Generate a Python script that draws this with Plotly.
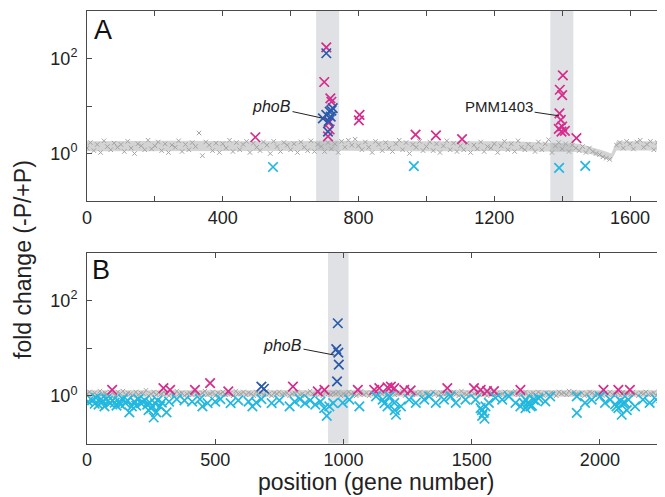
"""
Fold change (-P/+P) along the genome, two strains (A, B).
"""
import math
import plotly.graph_objects as go

# ---- panel A : background genes (every 10th gene) ----
grey_a = [
    1.3, 1.7, 1.15, 1.55, 1.05, 1.85, 1.4, 1.2, 1.65, 1.35,
    1.55, 1.1, 1.8, 1.3, 1.0, 1.6, 1.45, 1.2, 1.9, 1.25,
    1.45, 1.75, 1.15, 1.6, 1.05, 1.5, 1.35, 1.85, 1.1, 1.55,
    1.2, 1.7, 1.4, 2.7, 0.9, 1.75, 1.5, 1.15, 1.65, 1.05,
    1.6, 1.3, 1.9, 1.1, 1.7, 1.2, 1.55, 1.8, 1.05, 1.65,
    1.35, 1.15, 1.75, 1.5, 1.0, 1.8, 1.4, 1.1, 1.7, 1.5,
    1.2, 1.6, 1.05, 1.75, 1.35, 1.15, 1.85, 1.1, 1.55, 1.4,
    1.1, 1.7, 1.25, 1.6, 1.05, 1.8, 1.35, 1.9, 1.5, 2.0,
    1.45, 1.2, 1.75, 1.35, 1.05, 1.8, 1.55, 1.15, 1.7, 1.3,
    1.1, 1.6, 1.9, 1.2, 1.7, 1.0, 1.55, 1.35, 1.8, 1.15,
    1.4, 1.75, 1.15, 1.6, 1.05, 1.45, 1.85, 1.2, 1.65, 1.1,
    1.45, 1.2, 1.65, 1.05, 1.5, 1.25, 1.75, 1.1, 1.4, 1.3,
    1.6, 1.05, 1.45, 1.8, 1.2, 1.6, 1.1, 1.85, 1.35, 1.2,
    1.55, 1.35, 1.1, 1.75, 1.2, 1.6, 1.95, 1.05, 1.45, 1.7,
    1.25, 1.6, 1.1, 1.5, 1.3, 1.15, 1.4, 1.05, 1.3, 1.1,
    1.0, 0.95, 0.85, 0.8, 0.75, None, 1.5, 1.7, 1.3, 1.8,
    1.6, 1.25, 1.75, 1.9, 1.35, 1.55, 1.8, 1.2, 1.7, 1.5,
    1.4,
]
grey_a_pos = list(range(0, 10 * len(grey_a), 10))

# envelope of the dense grey cloud
env_a_pos = [0, 250, 500, 750, 1000, 1250, 1450, 1490, 1520, 1545, 1560, 1700]
env_a_lo = [1.12, 1.14, 1.12, 1.14, 1.12, 1.13, 1.08, 0.95, 0.8, 0.72, 1.15, 1.15]
env_a_hi = [1.8, 1.85, 1.8, 1.85, 1.8, 1.8, 1.6, 1.35, 1.15, 1.0, 1.8, 1.8]

mag_a_pos = [496, 705, 699, 717, 720, 712, 715, 710, 803, 801, 968, 1028, 1105,
             1402, 1393, 1400, 1392, 1396, 1400, 1390, 1408, 1398, 1442]
mag_a_val = [2.2, 172, 32, 14.5, 12.3, 4.4, 3.2, 2.3, 6.5, 5.0, 2.5, 2.4, 2.0,
             44, 22, 17, 7, 5.1, 3.7, 3.3, 3.0, 2.9, 2.1]
blue_a_pos = [705, 724, 715, 705, 695, 720, 712, 710, 718]
blue_a_val = [129, 9, 7.6, 6.5, 5.5, 8, 4.8, 2.9, 6]
cyan_a_pos = [548, 963, 1391, 1468]
cyan_a_val = [0.52, 0.54, 0.5, 0.55]

# ---- panel B ----
grey_b = [
    1.1, 1.2, 1.05, 1.15, 1.0, 1.25, 1.1, 1.15, 1.05, 1.2,
    1.15, 1.0, 1.2, 1.1, 1.25, 1.05, 1.15, 1.1, 1.0, 1.2,
    1.05, 1.15, 1.1, 1.3, 1.0, 1.1, 1.2, 1.05, 1.15, 1.1,
    1.2, 1.1, 1.0, 1.15, 1.05, 1.25, 1.1, 1.15, 1.0, 1.1,
    1.15, 1.05, 1.2, 1.1, 1.0, 1.15, 1.25, 1.05, 1.1, 1.2,
    1.0, 1.15, 1.1, 1.2, 1.05, 1.1, 1.15, 1.0, 1.25, 1.1,
    1.1, 1.2, 1.05, 1.15, 1.1, 1.0, 1.2, 1.1, 1.15, 1.05,
    1.25, 1.1, 1.0, 1.15, 1.1, 1.2, 1.05, 1.1, 1.15, 1.0,
    1.1, 1.15, 1.2, 1.05, 1.1, 1.0, 1.15, 1.25, 1.1, 1.05,
    1.15, 1.1, 1.0, 1.2, 1.1, 1.05, 1.15, 1.1, 1.2, 1.0,
    1.1, 1.05, 1.2, 1.1, 1.15, 1.0, 1.1, 1.25, 1.05, 1.15,
    1.0, 1.15, 1.1, 1.05, 1.2, 1.1, 1.15, 1.0, 1.1, 1.2,
    1.05, 1.1, 1.15, 1.25, 1.0, 1.1, 1.2, 1.05, 1.15, 1.1,
    1.2, 1.0, 1.1, 1.15, 1.05, 1.2, 1.1, 1.0, 1.15, 1.1,
    1.1, 1.15, 1.05, 1.2, 1.1, 1.0, 1.25, 1.1, 1.05, 1.15,
    1.0, 1.1, 1.2, 1.05, 1.15, 1.1, 1.0, 1.2, 1.1, 1.05,
    1.15, 1.05, 1.1, 1.2, 1.0, 1.15, 1.1, 1.25, 1.05, 1.1,
    1.1, 1.2, 1.0, 1.1, 1.15, 1.05, 1.2, 1.1, 1.0, 1.15,
    1.05, 1.15, 1.1, 1.0, 1.2, 1.1, 1.15, 1.05, 1.25, 1.1,
    1.2, 1.1, 1.05, 1.15, 1.0, 1.1, 1.2, 1.15, 1.05, 1.1,
    1.1, 1.0, 1.15, 1.1, 1.2, 1.05, 1.1, 1.15, 1.0, 1.2,
    1.15, 1.1, 1.05, 1.2, 1.1, 1.0, 1.15, 1.1, 1.2, 1.05,
    1.1, 1.15, 1.0, 1.2, 1.1, 1.05,
]
grey_b_pos = list(range(0, 10 * len(grey_b), 10))
env_b_pos = [0, 500, 1000, 1500, 2000, 2250]
env_b_lo = [0.95, 0.96, 0.95, 0.96, 0.95, 0.95]
env_b_hi = [1.3, 1.32, 1.3, 1.32, 1.3, 1.3]

mag_b_pos = [98, 298, 324, 421, 480, 551, 803, 900, 926, 1056, 1120, 1140, 1172,
             1185, 1198, 1237, 1262, 1405, 1509, 1535, 1560, 1587, 1690, 2014,
             2072, 2117]
mag_b_val = [1.33, 1.44, 1.33, 1.33, 1.83, 1.23, 1.55, 1.23, 1.33, 1.33, 1.33, 1.45,
             1.5, 1.55, 1.44, 1.33, 1.3, 1.44, 1.44, 1.33, 1.25, 1.25, 1.33, 1.33,
             1.33, 1.33]
blue_b_pos = [680, 690, 978, 972, 980, 982, 975]
blue_b_val = [1.55, 1.4, 33, 9.5, 8, 4.5, 2.0]
cyan_b_pos = [5, 20, 30, 35, 45, 55, 60, 68, 75, 82, 90, 100, 108, 115, 125, 130,
              140, 150, 158, 165, 175, 185, 192, 200, 210, 218, 225, 235, 240, 245,
              250, 255, 260, 265, 270, 275, 285, 292, 310, 320, 350, 380, 410, 440,
              450, 470, 500, 520, 560, 590, 630, 645, 660, 680, 720, 750, 790, 810,
              830, 850, 870, 890, 910, 925, 935, 945, 960, 997, 1023, 1062, 1127,
              1153, 1160, 1172, 1180, 1198, 1200, 1205, 1224, 1256, 1282, 1315,
              1334, 1360, 1392, 1418, 1438, 1476, 1515, 1535, 1540, 1541, 1547,
              1550, 1554, 1567, 1593, 1619, 1645, 1671, 1690, 1703, 1710, 1710,
              1720, 1723, 1730, 1735, 1741, 1748, 1761, 1787, 1806, 1910, 1910,
              1942, 1968, 2000, 2020, 2040, 2059, 2065, 2072, 2080, 2085, 2090,
              2098, 2105, 2111, 2137, 2168, 2194, 2220, 2240]
cyan_b_val = [0.75, 0.8, 0.68, 0.9, 0.65, 0.85, 0.75, 0.6, 0.85, 0.78, 0.7, 0.8,
              0.72, 0.62, 0.75, 0.66, 0.85, 0.7, 0.8, 0.45, 0.6, 0.75, 0.62, 0.85,
              0.7, 0.74, 0.8, 0.65, 0.5, 0.72, 0.55, 0.6, 0.35, 0.7, 0.45, 0.8,
              0.6, 0.72, 0.45, 0.75, 0.85, 0.8, 0.75, 0.85, 0.6, 0.7, 0.75, 0.85,
              0.7, 0.8, 0.75, 0.6, 0.72, 0.85, 0.7, 0.8, 0.6, 0.75, 0.85, 0.7, 0.8,
              0.65, 0.75, 0.55, 0.38, 0.6, 0.7, 0.71, 0.83, 0.6, 0.97, 0.83, 0.7,
              0.6, 0.97, 0.71, 0.5, 0.4, 0.6, 0.83, 0.71, 0.83, 0.97, 0.71, 0.83,
              0.97, 0.71, 0.83, 0.83, 0.55, 0.5, 0.38, 0.44, 0.33, 0.6, 0.71, 0.9,
              0.83, 0.97, 0.71, 0.6, 0.71, 0.83, 0.55, 0.72, 0.66, 0.6, 0.62, 0.83,
              0.8, 0.88, 0.76, 0.97, 0.97, 0.44, 0.71, 0.83, 0.97, 0.71, 0.83, 0.66,
              0.6, 0.55, 0.78, 0.4, 0.7, 0.71, 0.5, 0.83, 0.6, 0.83, 0.71, 0.83,
              0.88]

# shaded gene clusters
bands_a = [(675, 743), (1365, 1433)]
bands_b = [(940, 1020)]

# labelled genes: (text, gene, fold change where the pointer ends, text offset, size)
label_a = [("<i>phoB</i>", 691, 5.6, -50, -11, 16), ("PMM1403", 1391, 6.2, -60, -9, 15)]
label_b = [("<i>phoB</i>", 965, 7.1, -52, -10, 16)]

MAGENTA = "#d62c8c"
BLUE = "#2a5aab"
CYAN = "#22b8df"
GREY = "#a3a3a3"
FONT = "Liberation Sans, Arial, Helvetica, sans-serif"

# the page body has an 8px margin, so the figure is drawn 8px in from the corner
W, H, OFF = 657, 489, 8


def fx(px):
    return (px - OFF) / W


def fy(py):
    return 1 - (py - OFF) / H


fig = go.Figure()


def add_panel(xa, ya, gpos, gval, epos, elo, ehi, groups):
    fig.add_trace(go.Scatter(x=epos, y=elo, mode="lines", line=dict(width=0),
                             xaxis=xa, yaxis=ya, hoverinfo="skip"))
    fig.add_trace(go.Scatter(x=epos, y=ehi, mode="lines", line=dict(width=0),
                             fill="tonexty", fillcolor="rgba(170,170,170,0.5)",
                             xaxis=xa, yaxis=ya, hoverinfo="skip"))
    fig.add_trace(go.Scatter(x=gpos, y=gval, mode="markers", xaxis=xa, yaxis=ya,
                             marker=dict(symbol="x-thin-open", size=4.5, color=GREY,
                                         line=dict(width=1, color=GREY))))
    for pos, val, col in groups:
        fig.add_trace(go.Scatter(x=pos, y=val, mode="markers", xaxis=xa, yaxis=ya,
                                 marker=dict(symbol="x-thin-open", size=9.5, color=col,
                                             line=dict(width=1.7, color=col))))


add_panel("x", "y", grey_a_pos, grey_a, env_a_pos, env_a_lo, env_a_hi,
          [(cyan_a_pos, cyan_a_val, CYAN), (mag_a_pos, mag_a_val, MAGENTA),
           (blue_a_pos, blue_a_val, BLUE)])
add_panel("x2", "y2", grey_b_pos, grey_b, env_b_pos, env_b_lo, env_b_hi,
          [(mag_b_pos, mag_b_val, MAGENTA), (cyan_b_pos, cyan_b_val, CYAN),
           (blue_b_pos, blue_b_val, BLUE)])

shapes = []
for lo, hi in bands_a:
    shapes.append(dict(type="rect", xref="x", yref="y domain", x0=lo, x1=hi, y0=0, y1=1,
                       fillcolor="#dfe1e5", line=dict(width=0), layer="below"))
for lo, hi in bands_b:
    shapes.append(dict(type="rect", xref="x2", yref="y2 domain", x0=lo, x1=hi, y0=0, y1=1,
                       fillcolor="#dfe1e5", line=dict(width=0), layer="below"))

annotations = []
for ref, labels in (("", label_a), ("2", label_b)):
    for text, gene, val, ax, ay, size in labels:
        annotations.append(dict(text=text, xref="x" + ref, yref="y" + ref, x=gene,
                                y=math.log10(val), ax=ax, ay=ay, showarrow=True,
                                arrowhead=0, arrowwidth=1, arrowcolor="#222",
                                font=dict(size=size, family=FONT, color="#222")))
centred = dict(xref="paper", yref="paper", showarrow=False,
               xanchor="center", yanchor="middle")
annotations += [
    dict(centred, text="A", x=fx(103), y=fy(30),
         font=dict(size=27, family=FONT, color="#111")),
    dict(centred, text="B", x=fx(101), y=fy(270),
         font=dict(size=27, family=FONT, color="#111")),
    dict(centred, text="position (gene number)", x=fx(376), y=fy(482),
         font=dict(size=23, family=FONT, color="#222")),
    dict(centred, text="fold change (-P/+P)", x=fx(23), y=fy(260), textangle=-90,
         font=dict(size=23, family=FONT, color="#222")),
]

axis_common = dict(showline=True, mirror="ticks", linecolor="#4a4a4a", linewidth=1,
                   ticks="inside", ticklen=5, tickcolor="#4a4a4a", showgrid=False,
                   zeroline=False, automargin=False,
                   tickfont=dict(family=FONT, size=18, color="#222"))
y_common = dict(axis_common, type="log", range=[-1, 3], tickvals=[1, 10, 100],
                ticktext=["10<sup>0</sup>", "", "10<sup>2</sup>"], ticklabelstandoff=5)

fig.update_layout(
    width=W, height=H,
    margin=dict(l=0, r=0, t=0, b=0, autoexpand=False),
    paper_bgcolor="white", plot_bgcolor="white",
    showlegend=False,
    font=dict(family=FONT, color="#222"),
    xaxis=dict(axis_common, domain=[fx(87), fx(664)], range=[0, 1700], anchor="y",
               tickvals=[0, 200, 400, 600, 800, 1000, 1200, 1400, 1600],
               ticktext=["0", "", "400", "", "800", "", "1200", "", "1600"]),
    yaxis=dict(y_common, domain=[fy(201), fy(11)], anchor="x"),
    xaxis2=dict(axis_common, domain=[fx(87), fx(664)], range=[0, 2250], anchor="y2",
                tickvals=[0, 500, 1000, 1500, 2000]),
    yaxis2=dict(y_common, domain=[fy(443.5), fy(252.5)], anchor="x2"),
    shapes=shapes,
    annotations=annotations,
)

fig.write_html("out.html")
